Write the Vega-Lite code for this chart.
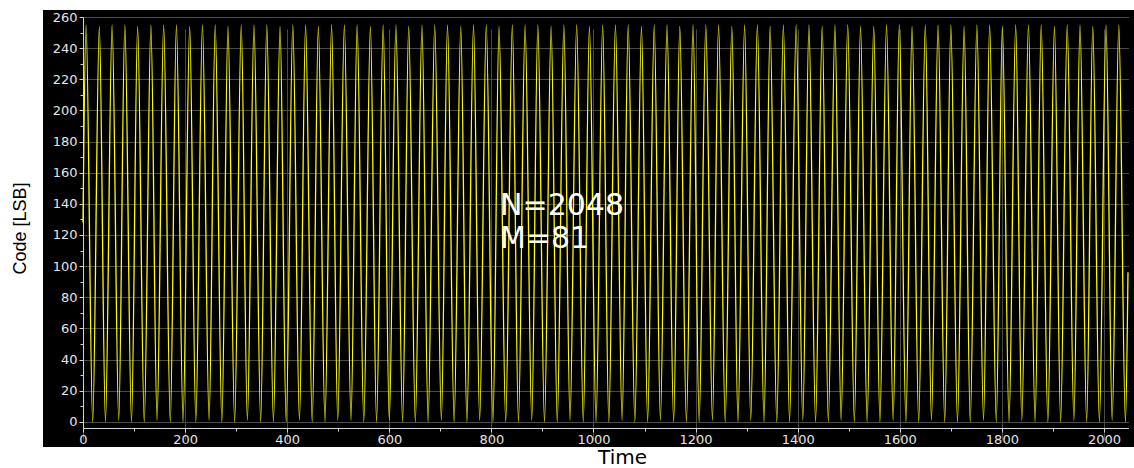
{
  "$schema": "https://vega.github.io/schema/vega-lite/v6.json",
  "width": 1091,
  "height": 437,
  "autosize": {"type": "none"},
  "padding": {"left": 43, "top": 10, "right": 0, "bottom": 21},
  "background": "white",
  "config": {
    "view": {"fill": "black", "stroke": null},
    "axis": {
      "domainColor": "#d4d4d4",
      "tickColor": "#d4d4d4",
      "labelColor": "#e4e4e4",
      "labelFont": "DejaVu Sans",
      "labelFontSize": 13,
      "titleColor": "black",
      "titleFontWeight": "normal",
      "gridColor": "#4a4a4a",
      "gridOpacity": 1,
      "gridWidth": 1
    }
  },
  "resolve": {"axis": {"x": "independent", "y": "independent"}},
  "layer": [
    {
      "data": {
        "values": [
          {"time": 0, "code": 128},
          {"time": 6, "code": 255}, {"time": 19, "code": 0}, {"time": 32, "code": 254}, {"time": 44, "code": 0},
          {"time": 57, "code": 255}, {"time": 70, "code": 1}, {"time": 82, "code": 255}, {"time": 95, "code": 0},
          {"time": 107, "code": 254}, {"time": 120, "code": 0}, {"time": 133, "code": 255}, {"time": 145, "code": 1},
          {"time": 158, "code": 255}, {"time": 171, "code": 0}, {"time": 183, "code": 255}, {"time": 196, "code": 0},
          {"time": 209, "code": 254}, {"time": 221, "code": 0}, {"time": 234, "code": 255}, {"time": 247, "code": 1},
          {"time": 259, "code": 255}, {"time": 272, "code": 0}, {"time": 284, "code": 254}, {"time": 297, "code": 0},
          {"time": 310, "code": 255}, {"time": 322, "code": 1}, {"time": 335, "code": 255}, {"time": 348, "code": 0},
          {"time": 360, "code": 255}, {"time": 373, "code": 0}, {"time": 386, "code": 254}, {"time": 398, "code": 0},
          {"time": 411, "code": 255}, {"time": 424, "code": 1}, {"time": 436, "code": 255}, {"time": 449, "code": 0},
          {"time": 461, "code": 254}, {"time": 474, "code": 0}, {"time": 487, "code": 255}, {"time": 499, "code": 1},
          {"time": 512, "code": 255}, {"time": 525, "code": 1}, {"time": 537, "code": 255}, {"time": 550, "code": 0},
          {"time": 563, "code": 254}, {"time": 575, "code": 0}, {"time": 588, "code": 255}, {"time": 600, "code": 1},
          {"time": 613, "code": 255}, {"time": 626, "code": 0}, {"time": 638, "code": 254}, {"time": 651, "code": 0},
          {"time": 664, "code": 255}, {"time": 676, "code": 0}, {"time": 689, "code": 255}, {"time": 702, "code": 1},
          {"time": 714, "code": 255}, {"time": 727, "code": 0}, {"time": 740, "code": 254}, {"time": 752, "code": 0},
          {"time": 765, "code": 255}, {"time": 777, "code": 1}, {"time": 790, "code": 255}, {"time": 803, "code": 0},
          {"time": 815, "code": 254}, {"time": 828, "code": 0}, {"time": 841, "code": 255}, {"time": 853, "code": 0},
          {"time": 866, "code": 255}, {"time": 879, "code": 1}, {"time": 891, "code": 255}, {"time": 904, "code": 0},
          {"time": 917, "code": 254}, {"time": 929, "code": 0}, {"time": 942, "code": 255}, {"time": 954, "code": 1},
          {"time": 967, "code": 255}, {"time": 980, "code": 0}, {"time": 992, "code": 254}, {"time": 1005, "code": 0},
          {"time": 1018, "code": 255}, {"time": 1030, "code": 0}, {"time": 1043, "code": 255}, {"time": 1056, "code": 1},
          {"time": 1068, "code": 255}, {"time": 1081, "code": 0}, {"time": 1094, "code": 254}, {"time": 1106, "code": 0},
          {"time": 1119, "code": 255}, {"time": 1131, "code": 1}, {"time": 1144, "code": 255}, {"time": 1157, "code": 0},
          {"time": 1169, "code": 254}, {"time": 1182, "code": 0}, {"time": 1195, "code": 255}, {"time": 1207, "code": 0},
          {"time": 1220, "code": 255}, {"time": 1233, "code": 1}, {"time": 1245, "code": 255}, {"time": 1258, "code": 0},
          {"time": 1271, "code": 254}, {"time": 1283, "code": 0}, {"time": 1296, "code": 255}, {"time": 1308, "code": 1},
          {"time": 1321, "code": 255}, {"time": 1334, "code": 0}, {"time": 1346, "code": 254}, {"time": 1359, "code": 0},
          {"time": 1372, "code": 255}, {"time": 1384, "code": 0}, {"time": 1397, "code": 255}, {"time": 1410, "code": 1},
          {"time": 1422, "code": 255}, {"time": 1435, "code": 0}, {"time": 1448, "code": 254}, {"time": 1460, "code": 0},
          {"time": 1473, "code": 255}, {"time": 1485, "code": 1}, {"time": 1498, "code": 255}, {"time": 1511, "code": 0},
          {"time": 1523, "code": 254}, {"time": 1536, "code": 0}, {"time": 1549, "code": 254}, {"time": 1561, "code": 0},
          {"time": 1574, "code": 255}, {"time": 1587, "code": 1}, {"time": 1599, "code": 255}, {"time": 1612, "code": 0},
          {"time": 1624, "code": 254}, {"time": 1637, "code": 0}, {"time": 1650, "code": 255}, {"time": 1662, "code": 1},
          {"time": 1675, "code": 255}, {"time": 1688, "code": 0}, {"time": 1700, "code": 255}, {"time": 1713, "code": 0},
          {"time": 1726, "code": 254}, {"time": 1738, "code": 0}, {"time": 1751, "code": 255}, {"time": 1764, "code": 1},
          {"time": 1776, "code": 255}, {"time": 1789, "code": 0}, {"time": 1801, "code": 254}, {"time": 1814, "code": 0},
          {"time": 1827, "code": 255}, {"time": 1839, "code": 1}, {"time": 1852, "code": 255}, {"time": 1865, "code": 0},
          {"time": 1877, "code": 255}, {"time": 1890, "code": 0}, {"time": 1903, "code": 254}, {"time": 1915, "code": 0},
          {"time": 1928, "code": 255}, {"time": 1941, "code": 1}, {"time": 1953, "code": 255}, {"time": 1966, "code": 0},
          {"time": 1978, "code": 254}, {"time": 1991, "code": 0}, {"time": 2004, "code": 255}, {"time": 2016, "code": 1},
          {"time": 2029, "code": 255}, {"time": 2042, "code": 0},
          {"time": 2047, "code": 96}
        ]
      },
      "mark": {"type": "line", "interpolate": "monotone", "stroke": "#ffff00", "strokeWidth": 1.3},
      "encoding": {
        "x": {
          "field": "time",
          "type": "quantitative",
          "scale": {"domain": [0, 2048], "range": [40, 1085.5], "nice": false, "zero": false},
          "axis": {
            "orient": "bottom",
            "offset": -19,
            "values": [0, 200, 400, 600, 800, 1000, 1200, 1400, 1600, 1800, 2000],
            "format": "d",
            "grid": true,
            "tickSize": 4,
            "labelPadding": 1,
            "labelFlush": false,
            "title": "Time",
            "titleFont": "DejaVu Sans",
            "titleFontSize": 20,
            "titleX": 579,
            "titleY": 35,
            "titleAlign": "center",
            "titleBaseline": "alphabetic"
          }
        },
        "y": {
          "field": "code",
          "type": "quantitative",
          "scale": {"domain": [-4, 260], "range": [418, 7], "nice": false, "zero": false},
          "axis": {
            "orient": "left",
            "offset": -40,
            "values": [0, 20, 40, 60, 80, 100, 120, 140, 160, 180, 200, 220, 240, 260],
            "format": "d",
            "grid": true,
            "tickSize": 4,
            "labelPadding": 2,
            "labelFlush": false,
            "title": "Code [LSB]",
            "titleFont": "Liberation Sans",
            "titleFontSize": 18,
            "titleAngle": -90,
            "titleX": -58,
            "titleY": 218,
            "titleAlign": "center",
            "titleBaseline": "alphabetic"
          }
        }
      }
    },
    {
      "data": {"values": [{}]},
      "mark": {
        "type": "text",
        "text": ["N=2048", "M=81"],
        "font": "DejaVu Sans",
        "fontSize": 30,
        "lineHeight": 33,
        "fill": "white",
        "align": "left",
        "baseline": "alphabetic"
      },
      "encoding": {
        "x": {
          "datum": 817,
          "type": "quantitative",
          "axis": {
            "orient": "bottom",
            "offset": -19,
            "values": [100, 300, 500, 700, 900, 1100, 1300, 1500, 1700, 1900],
            "labels": false,
            "domain": false,
            "grid": false,
            "tickSize": 3,
            "title": null
          }
        },
        "y": {
          "datum": 133,
          "type": "quantitative",
          "axis": {
            "orient": "left",
            "offset": -40,
            "values": [10, 30, 50, 70, 90, 110, 130, 150, 170, 190, 210, 230, 250],
            "labels": false,
            "domain": false,
            "grid": false,
            "tickSize": 3,
            "title": null
          }
        }
      }
    }
  ]
}
